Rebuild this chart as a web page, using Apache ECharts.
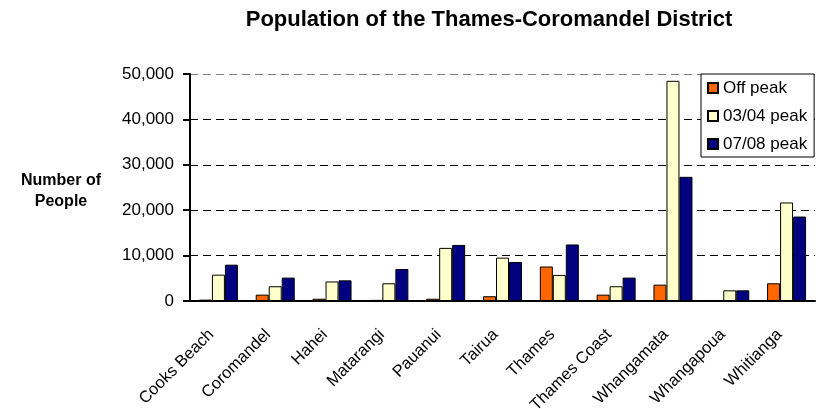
<!DOCTYPE html>
<html>
<head>
<meta charset="utf-8">
<title>Population of the Thames-Coromandel District</title>
<script src="https://cdn.jsdelivr.net/npm/echarts@6/dist/echarts.min.js"></script>
<style>
  html, body { margin: 0; padding: 0; background: #fff; }
  #chart { width: 816px; height: 409px; }
</style>
</head>
<body>
<div id="chart"></div>
<script>
// Settlements in the district
const towns = ['Cooks Beach', 'Coromandel', 'Hahei', 'Matarangi', 'Pauanui', 'Tairua',
  'Thames', 'Thames Coast', 'Whangamata', 'Whangapoua', 'Whitianga'];

// Number of people in each settlement
const offPeak  = [300, 1400, 500, 250, 500, 1050, 7600, 1400, 3600, 0, 3900];
const peak0304 = [5800, 3250, 4300, 3900, 11700, 9550, 5750, 3250, 48500, 2350, 21700];
const peak0708 = [8000, 5150, 4550, 7050, 12350, 8600, 12450, 5150, 27350, 2350, 18600];

// Value axis ticks
const yTicks = [0, 10000, 20000, 30000, 40000, 50000];

const FONT = '"Liberation Sans", Arial, sans-serif';

const chart = echarts.init(document.getElementById('chart'), null, { renderer: 'canvas' });

function barSeries(name, data, color) {
  return {
    name: name,
    type: 'bar',
    data: data,
    barWidth: 13,
    barGap: '0%',
    itemStyle: { color: color, borderColor: '#000', borderWidth: 1 },
    emphasis: { disabled: true }
  };
}

// Gridlines are black dashes, the top one is a lighter grey
const gridColors = yTicks.map((t, i) => (i === yTicks.length - 1 ? '#808080' : '#000'));

chart.setOption({
  animation: false,
  backgroundColor: '#fff',
  title: {
    text: 'Population of the Thames-Coromandel District',
    left: 489,
    textAlign: 'center',
    top: 9,
    padding: 0,
    textStyle: { fontFamily: FONT, fontSize: 22, fontWeight: 'bold', color: '#000' }
  },
  graphic: [{
    type: 'text',
    x: 61,
    y: 191,
    style: {
      text: 'Number of\nPeople',
      fontFamily: FONT,
      fontSize: 16,
      fontWeight: 'bold',
      lineHeight: 21,
      fill: '#000',
      align: 'center',
      verticalAlign: 'middle'
    }
  }],
  legend: {
    orient: 'vertical',
    left: 701,
    top: 74,
    padding: [5, 7, 4, 6],
    itemWidth: 10,
    itemHeight: 10,
    itemGap: 10,
    icon: 'rect',
    backgroundColor: '#fff',
    borderColor: '#000',
    borderWidth: 1,
    borderRadius: 0,
    z: 10,
    textStyle: { fontFamily: FONT, fontSize: 17, lineHeight: 18, color: '#000' },
    data: ['Off peak', '03/04 peak', '07/08 peak']
  },
  grid: {
    left: 190, right: 1, top: 74, bottom: 108,
    containLabel: false,
    outerBoundsMode: 'none'
  },
  xAxis: {
    type: 'category',
    data: towns,
    axisLine: { lineStyle: { color: '#000', width: 2 } },
    axisTick: { length: 5, lineStyle: { color: '#000', width: 2 } },
    axisLabel: {
      rotate: 45,
      interval: 0,
      margin: 24,
      padding: [0, 10, 0, 0],
      fontFamily: FONT,
      fontSize: 16.5,
      color: '#000'
    }
  },
  yAxis: {
    type: 'value',
    min: yTicks[0],
    max: yTicks[yTicks.length - 1],
    interval: yTicks[1] - yTicks[0],
    axisLine: { show: true, lineStyle: { color: '#000', width: 2 } },
    axisTick: { show: true, length: 7, lineStyle: { color: '#000', width: 2 } },
    splitLine: { show: true, lineStyle: { color: gridColors, width: 1, type: [8, 5] } },
    axisLabel: {
      margin: 16,
      fontFamily: FONT,
      fontSize: 17,
      color: '#000',
      formatter: v => v.toLocaleString('en-US')
    }
  },
  series: [
    barSeries('Off peak', offPeak, '#FF6600'),
    barSeries('03/04 peak', peak0304, '#FFFFCC'),
    barSeries('07/08 peak', peak0708, '#000080')
  ]
});
</script>
</body>
</html>
